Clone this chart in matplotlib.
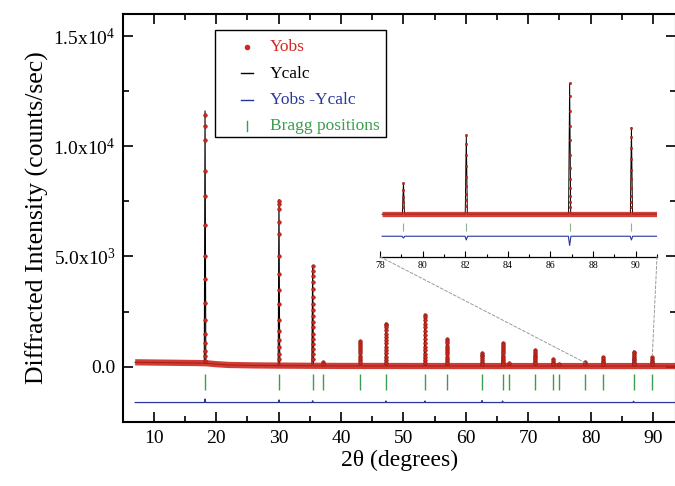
import matplotlib
matplotlib.use("Agg")
import matplotlib.pyplot as plt
from matplotlib.patches import Rectangle, ConnectionPatch
from matplotlib.ticker import MultipleLocator, FixedLocator

plt.rcParams["font.family"] = ["Liberation Serif", "DejaVu Serif"]
plt.rcParams["mathtext.fontset"] = "custom"
plt.rcParams["mathtext.rm"] = "Liberation Serif"

RED = "#d3261c"
BLUE = "#27379a"
GREEN = "#3c9e4c"

# ---- main pattern ----
bg_x = [7.0, 10.0, 14.0, 17.0, 18.5, 20.0, 22.0, 26.0, 30.0, 40.0, 60.0, 80.0, 94.0]
bg_y = [195, 185, 172, 162, 150, 110, 75, 55, 45, 30, 25, 25, 25]

peak_pos = [18.2, 30.05, 35.45, 37.1, 43.1, 47.2, 53.45, 57.0, 62.6, 65.9, 66.9,
            71.05, 74.05, 75.0, 79.1, 82.0, 86.9, 89.85]
peak_h = [11450, 7530, 4550, 200, 1150, 1950, 2350, 1250, 620, 1080, 150,
          740, 330, 100, 190, 430, 680, 430]
obs_levels = [
    [11430, 10940, 10290, 8860, 7730, 6430, 5010, 3980, 2890, 2130, 1480, 1070, 730, 500, 270],
    [7530, 7380, 7160, 6550, 6020, 5040, 4200, 3480, 2840, 2120, 1630, 1210, 880, 580, 350],
    [4550, 4360, 4130, 3830, 3520, 3140, 2840, 2570, 2310, 2010, 1780, 1480, 1260, 1030, 800, 580, 350],
    [200, 120],
    [1150, 1080, 1000, 900, 800, 700, 600, 500, 400, 300, 200],
    [1950, 1880, 1780, 1650, 1500, 1350, 1200, 1050, 900, 750, 600, 450, 300, 180],
    [2350, 2250, 2100, 1950, 1780, 1600, 1420, 1250, 1080, 900, 740, 580, 430, 300, 180],
    [1250, 1150, 1050, 950, 850, 750, 650, 550, 450, 350, 250, 150],
    [620, 540, 460, 380, 300, 220, 140],
    [1080, 990, 900, 800, 700, 600, 500, 400, 300, 200, 120],
    [150],
    [740, 660, 580, 500, 420, 340, 260, 180],
    [330, 250, 170, 100],
    [100],
    [190, 120],
    [430, 350, 270, 190, 110],
    [680, 600, 520, 440, 360, 280, 200, 120],
    [430, 350, 270, 190, 110],
]
bragg_pos = peak_pos
diff_level = -1630
diff_spike_pos = [18.2, 30.05, 35.45, 47.2, 53.45, 62.6, 65.9, 86.9]
diff_spike_amp = [160, 120, 80, 70, 70, 90, 70, 60]

# ---- inset (78-91 deg) ----
in_peak_pos = [79.1, 82.05, 86.9, 89.8]
in_peak_h = [168, 428, 710, 470]
in_obs_levels = [
    [168, 130, 95, 65, 40],
    [428, 380, 320, 260, 200, 150, 110, 75, 45],
    [710, 640, 560, 480, 400, 320, 250, 190, 140, 100, 65, 40],
    [470, 420, 360, 300, 240, 190, 140, 100, 65, 40],
]
in_diff_level = -120
in_diff_amp = [-10, -20, -50, -20]
in_ticks = [78, 80, 82, 84, 86, 88, 90]


def calc_curve(bx, by, pos, hts, hw):
    # background polyline with narrow triangular peaks inserted
    xs, ys = [], []
    pts = sorted(zip(pos, hts))
    j = 0
    for i in range(len(bx)):
        while j < len(pts) and pts[j][0] < bx[i]:
            p, h = pts[j]
            b = by[i - 1] + (by[i] - by[i - 1]) * (p - bx[i - 1]) / (bx[i] - bx[i - 1])
            xs += [p - hw, p, p + hw]
            ys += [b, b + h, b]
            j += 1
        xs.append(bx[i]); ys.append(by[i])
    return xs, ys


fig = plt.figure(figsize=(6.75, 4.86), dpi=100)
ax = fig.add_axes([122.7 / 675, 64.3 / 486, (676 - 122.7) / 675, (421.7 - 14) / 486])

# Ycalc under a translucent Yobs band
cx, cy = calc_curve(bg_x, bg_y, peak_pos, peak_h, 0.12)
ax.plot(cx, cy, color="black", lw=0.8, zorder=2)
ax.plot(bg_x, bg_y, color="#c8221a", lw=4.5, alpha=0.88, solid_capstyle="butt", zorder=3)
for p, lev in zip(peak_pos, obs_levels):
    ax.plot([p] * len(lev), lev, "o", color=RED, ms=2.6, mec="#8a1a12", mew=0.4, zorder=4)

# Bragg positions
ax.vlines(bragg_pos, -1050, -350, color=GREEN, lw=1.0, zorder=2)

# difference
dx, dy = calc_curve([7.0, 94.0], [diff_level, diff_level], diff_spike_pos,
                    diff_spike_amp, 0.1)
ax.plot(dx, dy, color=BLUE, lw=0.9, zorder=2)

ax.set_xlim(5, 93.7)
ax.set_ylim(-2500, 16000)
ax.xaxis.set_major_locator(MultipleLocator(10))
ax.xaxis.set_minor_locator(MultipleLocator(5))
ax.yaxis.set_major_locator(FixedLocator([0, 5000, 10000, 15000]))
ax.yaxis.set_minor_locator(MultipleLocator(2500))
ax.set_yticklabels(["0.0", r"$\mathrm{5.0x10^{3}}$", r"$\mathrm{1.0x10^{4}}$",
                    r"$\mathrm{1.5x10^{4}}$"])
ax.tick_params(which="both", direction="in", top=True, right=True, width=1.2,
               labelsize=14)
ax.tick_params(which="major", length=7)
ax.tick_params(which="minor", length=4)
ax.tick_params(axis="x", pad=6)
ax.tick_params(axis="y", pad=5)
for s in ax.spines.values():
    s.set_linewidth(1.5)
ax.set_xlabel("2θ (degrees)", fontsize=17, labelpad=2)
ax.set_ylabel("Diffracted Intensity (counts/sec)", fontsize=18.5, labelpad=3)

# legend drawn by hand to match the box layout
def fx(px):
    return (px - 122.7) / 553.3

def fy(py):
    return 1 - (py - 14) / 407.7

ax.add_patch(Rectangle((fx(215), fy(137)), fx(386) - fx(215), fy(30) - fy(137),
                       transform=ax.transAxes, fill=False, ec="black", lw=1.0, zorder=6))
leg_y = [47, 73.5, 100, 126]
leg_txt = ["Yobs", "Ycalc", "Yobs -Ycalc", "Bragg positions"]
leg_col = [RED, "black", BLUE, GREEN]
ax.plot([fx(247)], [fy(leg_y[0])], "o", color=RED, ms=3, transform=ax.transAxes, zorder=6)
ax.plot([fx(241), fx(253)], [fy(leg_y[1])] * 2, color="black", lw=1.0,
        transform=ax.transAxes, zorder=6)
ax.plot([fx(241), fx(253)], [fy(leg_y[2])] * 2, color=BLUE, lw=1.0,
        transform=ax.transAxes, zorder=6)
ax.plot([fx(247)] * 2, [fy(leg_y[3] - 5), fy(leg_y[3] + 5)], color=GREEN, lw=1.0,
        transform=ax.transAxes, zorder=6)
for yy, t, c in zip(leg_y, leg_txt, leg_col):
    ax.text(fx(270), fy(yy), t, color=c, fontsize=12.5, va="center", ha="left",
            transform=ax.transAxes, zorder=6)

# ---- inset ----
ins = fig.add_axes([380 / 675, 1 - 256.7 / 486, 277 / 675, (256.7 - 75) / 486])
ins.patch.set_visible(False)
ix, iy = calc_curve([78.1, 91.0], [0, 0], in_peak_pos, in_peak_h, 0.05)
ins.plot(ix, iy, color="black", lw=0.7, zorder=2)
ins.plot([78.1, 91.0], [0, 0], color="#c8221a", lw=3.8, alpha=0.85,
         solid_capstyle="butt", zorder=3)
for p, lev in zip(in_peak_pos, in_obs_levels):
    ins.plot([p] * len(lev), lev, "o", color=RED, ms=1.8, mec="#8a1a12", mew=0.3, zorder=4)
ins.vlines(in_peak_pos, -90, -50, color="#8fae94", lw=0.8)
jx, jy = calc_curve([78.1, 91.0], [in_diff_level] * 2, in_peak_pos, in_diff_amp, 0.06)
ins.plot(jx, jy, color=BLUE, lw=0.8)
ins.set_xlim(78, 91)
ins.set_ylim(-231, 755)
for k in ["top", "left", "right"]:
    ins.spines[k].set_visible(False)
ins.spines["bottom"].set_linewidth(0.9)
ins.yaxis.set_visible(False)
ins.xaxis.set_major_locator(FixedLocator(in_ticks))
ins.xaxis.set_minor_locator(MultipleLocator(1))
ins.tick_params(which="both", direction="in", width=0.8, labelsize=7, pad=3)
ins.tick_params(which="major", length=4)
ins.tick_params(which="minor", length=2.5)

for xa, xb in [((78, -231), (79.1, 180)), ((91, -231), (89.9, 480))]:
    con = ConnectionPatch(xyA=xa, coordsA=ins.transData, xyB=xb, coordsB=ax.transData,
                          color="#9a9a9a", lw=0.7, ls=(0, (3, 2)))
    fig.add_artist(con)

fig.savefig("out.png", dpi=100)
